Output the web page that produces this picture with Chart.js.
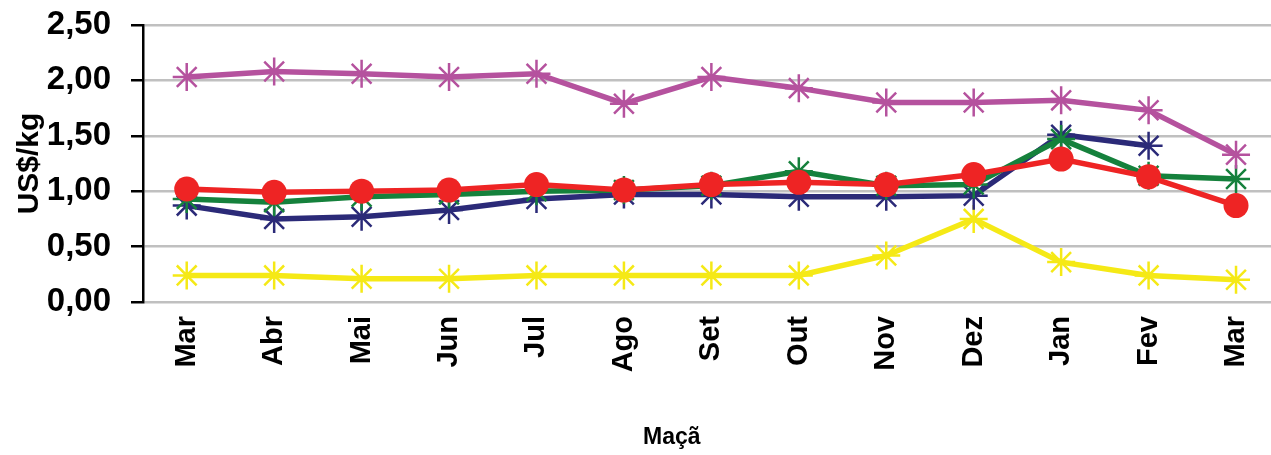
<!DOCTYPE html>
<html>
<head>
<meta charset="utf-8">
<script src="https://cdn.jsdelivr.net/npm/chart.js@4.4.1/dist/chart.umd.min.js"></script>
<style>
  html, body { margin: 0; padding: 0; background: #fff; }
  #wrap { width: 1271px; height: 455px; }
</style>
</head>
<body>
<div id="wrap"><canvas id="chart" width="1271" height="455"></canvas></div>
<script>
const months = ["Mar", "Abr", "Mai", "Jun", "Jul", "Ago", "Set", "Out", "Nov", "Dez", "Jan", "Fev", "Mar"];

// values (US$/kg)
const purpleSeries = [2.03, 2.08, 2.06, 2.03, 2.06, 1.79, 2.03, 1.93, 1.80, 1.80, 1.82, 1.73, 1.33];
const navySeries   = [0.87, 0.75, 0.77, 0.83, 0.93, 0.97, 0.97, 0.95, 0.95, 0.96, 1.51, 1.41, null];
const greenSeries  = [0.93, 0.90, 0.95, 0.97, 1.00, 1.01, 1.05, 1.18, 1.05, 1.06, 1.47, 1.14, 1.11];
const redSeries    = [1.02, 0.99, 1.00, 1.01, 1.06, 1.01, 1.06, 1.08, 1.06, 1.15, 1.29, 1.13, 0.87];
const yellowSeries = [0.24, 0.24, 0.21, 0.21, 0.24, 0.24, 0.24, 0.24, 0.42, 0.75, 0.36, 0.24, 0.20];

const yTicks = [0, 0.5, 1, 1.5, 2, 2.5];

// month index -> point, so the x scale can run a bit past the last month like the original
const toPoints = (arr) => arr.map((v, i) => ({ x: i, y: v }));

function starSet(data, color, order) {
  return {
    data: toPoints(data),
    borderColor: color,
    backgroundColor: color,
    borderWidth: 5.5,
    pointStyle: "star",
    pointRadius: 14,
    pointBorderWidth: 2.5,
    pointBorderColor: color,
    pointHoverRadius: 14,
    order: order,
    spanGaps: false,
  };
}

const ctx = document.getElementById("chart").getContext("2d");

new Chart(ctx, {
  type: "line",
  data: {
    datasets: [
      starSet(yellowSeries, "#f5e916", 5),
      starSet(navySeries, "#2b2a78", 4),
      starSet(greenSeries, "#15813c", 3),
      {
        data: toPoints(redSeries),
        borderColor: "#ee2424",
        backgroundColor: "#ee2424",
        borderWidth: 5.5,
        pointStyle: "circle",
        pointRadius: 12.5,
        pointBorderWidth: 0,
        pointHoverRadius: 12.5,
        order: 2,
      },
      starSet(purpleSeries, "#b5529e", 1),
    ],
  },
  options: {
    responsive: false,
    animation: false,
    layout: { autoPadding: false, padding: { top: 25, right: 0, left: 12, bottom: 0 } },
    plugins: {
      legend: { display: false },
      tooltip: { enabled: false },
    },
    scales: {
      x: {
        type: "linear",
        min: -0.5,
        max: 12.4,
        afterBuildTicks: (scale) => { scale.ticks = months.map((m, i) => ({ value: i })); },
        grid: { display: false },
        border: { display: false },
        ticks: {
          color: "#000",
          minRotation: 90,
          maxRotation: 90,
          autoSkip: false,
          padding: 6,
          font: { family: "Liberation Sans", weight: "bold", size: 29 },
          callback: (v) => months[v],
        },
        title: {
          display: true,
          text: "Maçã" + "\u00a0".repeat(11),
          color: "#000",
          padding: { top: 36, bottom: 4 },
          font: { family: "Liberation Sans", weight: "bold", size: 23 },
        },
        afterFit: (scale) => {
          scale.height = 153;
          scale.paddingLeft = 0;
          scale.paddingRight = 0;
        },
      },
      y: {
        min: 0,
        max: 2.5,
        afterBuildTicks: (scale) => { scale.ticks = yTicks.map((v) => ({ value: v })); },
        grid: {
          color: "#c0c0c0",
          lineWidth: 2.5,
          drawTicks: true,
          tickLength: 12,
          tickColor: "#000",
          tickWidth: 2.5,
        },
        border: { display: true, color: "#000", width: 2.5 },
        ticks: {
          color: "#000",
          padding: 20,
          font: { family: "Liberation Sans", weight: "bold", size: 33 },
          callback: (v) => v.toFixed(2).replace(".", ","),
        },
        title: {
          display: true,
          text: "US$/kg",
          color: "#000",
          padding: { top: 0, bottom: 0 },
          font: { family: "Liberation Sans", weight: "bold", size: 30 },
        },
        afterFit: (scale) => {
          scale.width = 131;
          scale.paddingTop = 0;
          scale.paddingBottom = 0;
        },
      },
    },
  },
});
</script>
</body>
</html>
